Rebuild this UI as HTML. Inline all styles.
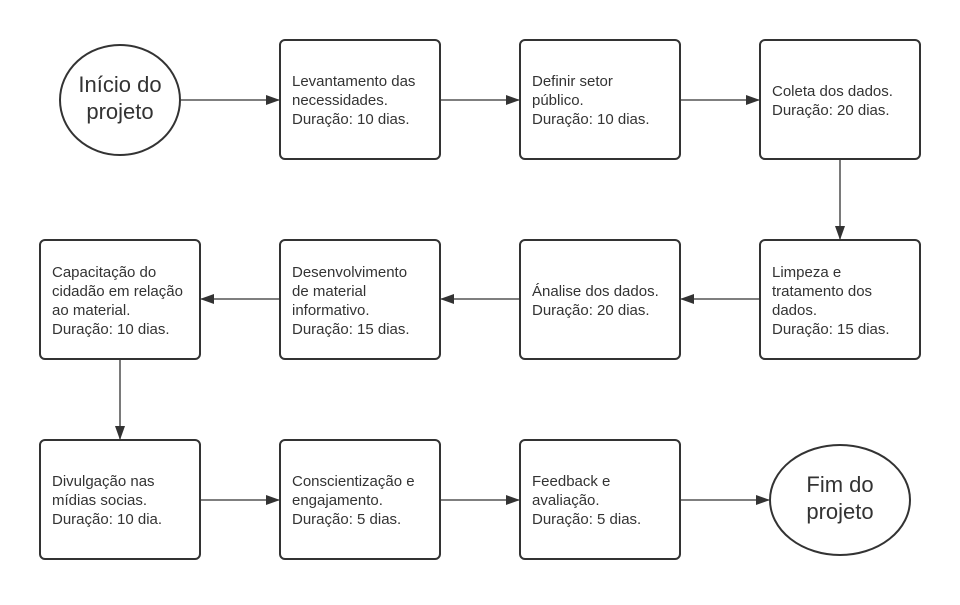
<!DOCTYPE html>
<html><head><meta charset="utf-8"><style>
body{margin:0;background:#fff;}
svg text{font-family:"Liberation Sans",sans-serif;fill:#333;}
</style></head><body>
<svg width="960" height="600" viewBox="0 0 960 600" xmlns="http://www.w3.org/2000/svg">
<defs><marker id="a" markerWidth="14" markerHeight="10" refX="13" refY="5" orient="auto" markerUnits="userSpaceOnUse"><path d="M0,0 L14,5 L0,10 z" fill="#333"/></marker></defs>
<g fill="#fff" stroke="#333" stroke-width="2">
<ellipse cx="120" cy="100" rx="60" ry="55"/>
<ellipse cx="840" cy="500" rx="70" ry="55"/>
<rect x="280" y="40" width="160" height="119" rx="5"/>
<rect x="520" y="40" width="160" height="119" rx="5"/>
<rect x="760" y="40" width="160" height="119" rx="5"/>
<rect x="40" y="240" width="160" height="119" rx="5"/>
<rect x="280" y="240" width="160" height="119" rx="5"/>
<rect x="520" y="240" width="160" height="119" rx="5"/>
<rect x="760" y="240" width="160" height="119" rx="5"/>
<rect x="40" y="440" width="160" height="119" rx="5"/>
<rect x="280" y="440" width="160" height="119" rx="5"/>
<rect x="520" y="440" width="160" height="119" rx="5"/>
</g>
<g stroke="#333" stroke-width="1.3" fill="none" marker-end="url(#a)">
<line x1="181" y1="100" x2="279" y2="100"/>
<line x1="441" y1="100" x2="519" y2="100"/>
<line x1="681" y1="100" x2="759" y2="100"/>
<line x1="840" y1="160" x2="840" y2="239"/>
<line x1="759" y1="299" x2="681" y2="299"/>
<line x1="519" y1="299" x2="441" y2="299"/>
<line x1="279" y1="299" x2="201" y2="299"/>
<line x1="120" y1="360" x2="120" y2="439"/>
<line x1="201" y1="500" x2="279" y2="500"/>
<line x1="441" y1="500" x2="519" y2="500"/>
<line x1="681" y1="500" x2="769" y2="500"/>
</g>
<g font-size="22" text-anchor="middle">
<text x="120" y="92">Início do</text><text x="120" y="119">projeto</text>
<text x="840" y="492">Fim do</text><text x="840" y="519">projeto</text>
</g>
<g font-size="15">
<text x="292" y="86">Levantamento das</text><text x="292" y="105">necessidades.</text><text x="292" y="124">Duração: 10 dias.</text>
<text x="532" y="86">Definir setor</text><text x="532" y="105">público.</text><text x="532" y="124">Duração: 10 dias.</text>
<text x="772" y="96">Coleta dos dados.</text><text x="772" y="115">Duração: 20 dias.</text>
<text x="52" y="277">Capacitação do</text><text x="52" y="296">cidadão em relação</text><text x="52" y="315">ao material.</text><text x="52" y="334">Duração: 10 dias.</text>
<text x="292" y="277">Desenvolvimento</text><text x="292" y="296">de material</text><text x="292" y="315">informativo.</text><text x="292" y="334">Duração: 15 dias.</text>
<text x="532" y="296">Ánalise dos dados.</text><text x="532" y="315">Duração: 20 dias.</text>
<text x="772" y="277">Limpeza e</text><text x="772" y="296">tratamento dos</text><text x="772" y="315">dados.</text><text x="772" y="334">Duração: 15 dias.</text>
<text x="52" y="486">Divulgação nas</text><text x="52" y="505">mídias socias.</text><text x="52" y="524">Duração: 10 dia.</text>
<text x="292" y="486">Conscientização e</text><text x="292" y="505">engajamento.</text><text x="292" y="524">Duração: 5 dias.</text>
<text x="532" y="486">Feedback e</text><text x="532" y="505">avaliação.</text><text x="532" y="524">Duração: 5 dias.</text>
</g>
</svg>
</body></html>
